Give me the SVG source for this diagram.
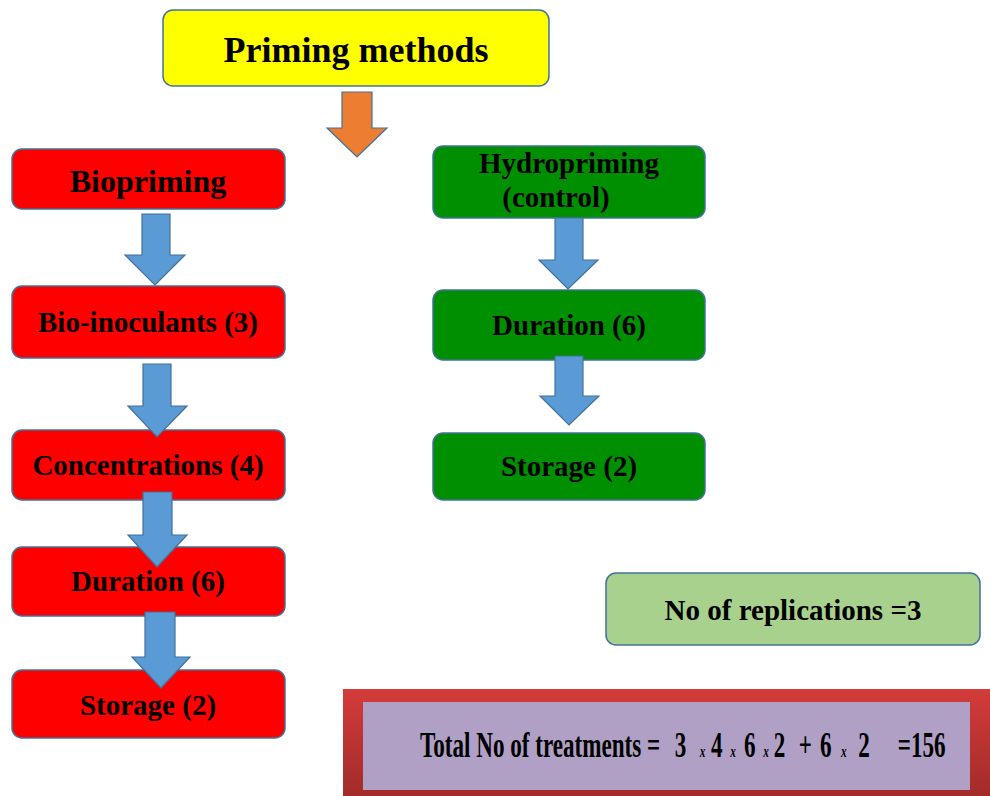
<svg xmlns="http://www.w3.org/2000/svg" width="990" height="796" viewBox="0 0 990 796">
<defs>
<style>
.box{stroke:#41719c;stroke-width:1.5}
.red{fill:#ff0000}
.green{fill:#008f00}
.t{font-family:"Liberation Serif","Times New Roman",serif;font-weight:bold;fill:#000;text-anchor:middle}
.s29{font-size:29px}
.arr{fill:#5b9bd5;stroke:#41719c;stroke-width:1.2}
.tot{font-family:"Liberation Serif","Times New Roman",serif;font-weight:bold;fill:#000;font-size:35px}
.sx{font-size:17px;font-style:italic}
</style>
<linearGradient id="rg" x1="0" y1="0" x2="0" y2="1">
<stop offset="0" stop-color="#d33c3a"/>
<stop offset="1" stop-color="#a32b29"/>
</linearGradient>
</defs>
<rect width="990" height="796" fill="#fff"/>

<g id="priming">
<rect class="box" x="163" y="10" width="386" height="76" rx="10" fill="#ffff00"/>
<text class="t" x="356" y="62" font-size="36">Priming methods</text>
</g>
<g id="biopriming">
<rect class="box red" x="12" y="149" width="273" height="60" rx="10"/>
<text class="t" x="148" y="192" font-size="32">Biopriming</text>
</g>
<g id="bioinoculants">
<rect class="box red" x="12" y="286" width="273" height="72" rx="10"/>
<text class="t s29" x="148" y="332">Bio-inoculants (3)</text>
</g>
<g id="concentrations">
<rect class="box red" x="12" y="430" width="273" height="70" rx="10"/>
<text class="t s29" x="148" y="475">Concentrations (4)</text>
</g>
<g id="duration-bio">
<rect class="box red" x="12" y="547" width="273" height="69" rx="10"/>
<text class="t s29" x="148" y="591">Duration (6)</text>
</g>
<g id="storage-bio">
<rect class="box red" x="12" y="670" width="273" height="68" rx="10"/>
<text class="t s29" x="148" y="715">Storage (2)</text>
</g>
<g id="hydropriming">
<rect class="box green" x="433" y="146" width="272" height="72" rx="10"/>
<text class="t s29" x="569" y="173">Hydropriming</text>
<text class="t s29" x="556" y="207">(control)</text>
</g>
<g id="duration-hydro">
<rect class="box green" x="433" y="290" width="272" height="70" rx="10"/>
<text class="t s29" x="569" y="335">Duration (6)</text>
</g>
<g id="storage-hydro">
<rect class="box green" x="433" y="433" width="272" height="67" rx="10"/>
<text class="t s29" x="569" y="476">Storage (2)</text>
</g>
<g id="replications">
<rect class="box" x="606" y="573" width="374" height="72" rx="10" fill="#a9d18e"/>
<text class="t s29" x="793" y="620">No of replications =3</text>
</g>
<g id="total">
<rect x="343" y="689" width="647" height="107" fill="url(#rg)"/>
<rect x="363" y="702" width="607" height="88" fill="#b0a0c6"/>
<text class="tot" transform="translate(420,757) scale(0.66,1)"><tspan x="0" y="0">Total No of treatments =</tspan><tspan x="386">3</tspan><tspan class="sx" x="424">x</tspan><tspan x="441">4</tspan><tspan class="sx" x="470">x</tspan><tspan x="491">6</tspan><tspan class="sx" x="520">x</tspan><tspan x="536">2</tspan><tspan x="574">+</tspan><tspan x="606">6</tspan><tspan class="sx" x="638">x</tspan><tspan x="664">2</tspan><tspan x="724">=156</tspan></text>
</g>

<g id="connectors">
<polygon points="342,92 372,92 372,128 387,128 357,157 327,128 342,128" fill="#ed7d31" stroke="#41719c" stroke-width="1.2"/>
<polygon class="arr" points="142,214 170,214 170,255 185,255 155,285 125,255 142,255"/>
<polygon class="arr" points="143,364 171,364 171,406 187,406 157,437 128,406 143,406"/>
<polygon class="arr" points="143,492 172,492 172,535 187,535 157,567 128,535 143,535"/>
<polygon class="arr" points="145,612 175,612 175,657 190,657 161,688 132,657 145,657"/>
<polygon class="arr" points="555,218 583,218 583,260 598,260 568,289 539,260 555,260"/>
<polygon class="arr" points="555,356 583,356 583,396 599,396 569,425 540,396 555,396"/>
</g>
</svg>
